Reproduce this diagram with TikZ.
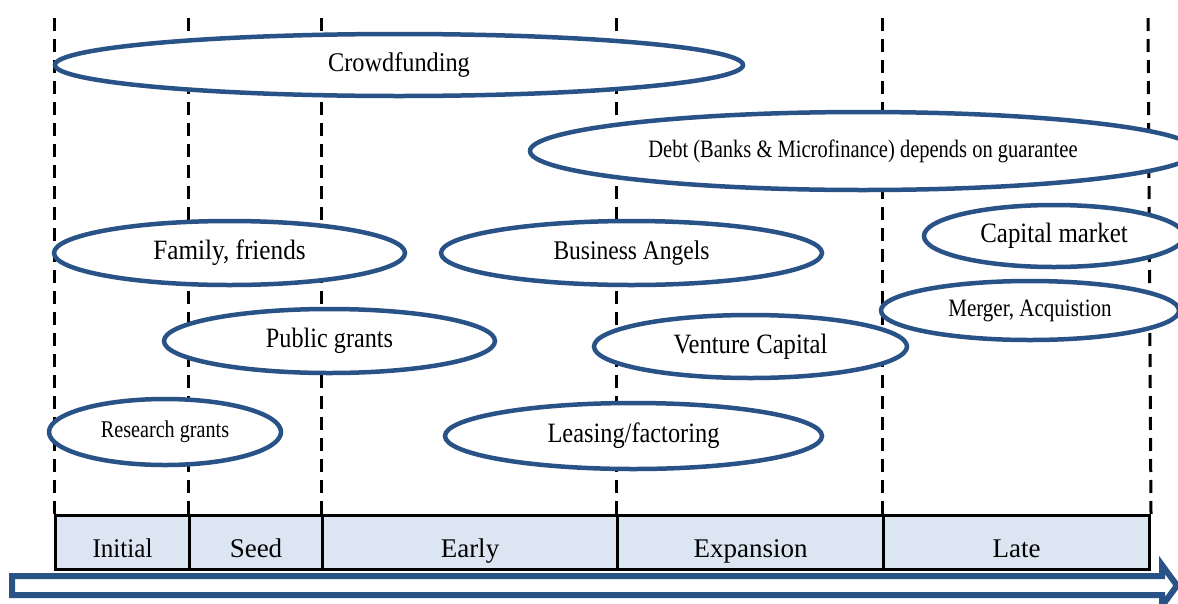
\documentclass[tikz,border=0pt]{standalone}
\usepackage{fontspec}
\setmainfont{Liberation Serif}
\usetikzlibrary{shapes.geometric}
\definecolor{fundblue}{RGB}{41,82,134}
\definecolor{stagefill}{RGB}{220,230,242}
% text at a given size with a horizontal squeeze
\newcommand{\lbl}[3]{\scalebox{#2}[1]{\fontsize{#1}{#1}\selectfont #3}}
\begin{document}
\begin{tikzpicture}[x=1pt,y=-1pt,
  fund/.style={ellipse, draw=fundblue, line width=4.5pt, fill=white, inner sep=0pt},
  divider/.style={draw=black, line width=3pt, dash pattern=on 13pt off 8pt},
  stagecell/.style={rectangle, draw=black, line width=3pt, fill=stagefill,
    minimum height=54pt, inner sep=0pt, anchor=north west},
  stagetext/.style={anchor=base, inner sep=0pt},
  flow/.style={draw=fundblue, line width=6pt, fill=white, line join=miter}]
\useasboundingbox (0,0) rectangle (1178,603);
\clip (0,0) rectangle (1178,603);

% stage cells along the bottom
\node[stagecell, minimum width=134pt] (sI) at (54,514) {};
\node[stagecell, minimum width=133pt] (sS) at (188,514) {};
\node[stagecell, minimum width=295pt] (sE) at (321,514) {};
\node[stagecell, minimum width=266pt] (sX) at (616,514) {};
\node[stagecell, minimum width=266pt] (sL) at (882,514) {};

% dashed dividers between the stages
\coordinate (d0) at (54,18);
\coordinate (d1) at (188,18);
\coordinate (d2) at (321,18);
\coordinate (d3) at (616,18);
\coordinate (d4) at (882,18);
\coordinate (d5) at (1148,18);
\draw[divider] (d0) -- (sI.north west);
\draw[divider] (d1) -- (sS.north west);
\draw[divider] (d2) -- (sE.north west);
\draw[divider] (d3) -- (sX.north west);
\draw[divider] (d4) -- (sL.north west);
\draw[divider] (d5) -- (sL.north east);

% redraw the cells so their borders sit above the dashes
\node[stagecell, minimum width=134pt] at (54,514) {};
\node[stagecell, minimum width=133pt] at (188,514) {};
\node[stagecell, minimum width=295pt] at (321,514) {};
\node[stagecell, minimum width=266pt] at (616,514) {};
\node[stagecell, minimum width=266pt] at (882,514) {};

\node[stagetext] (tI) at ([yshift=-15pt]sI.center) {\lbl{27}{0.93}{Initial}};
\node[stagetext] (tS) at ([yshift=-15pt]sS.center) {\lbl{27}{1.0}{Seed}};
\node[stagetext] (tE) at ([yshift=-15pt]sE.center) {\lbl{27}{1.0}{Early}};
\node[stagetext] (tX) at ([yshift=-15pt]sX.center) {\lbl{27}{1.0}{Expansion}};
\node[stagetext] (tL) at ([yshift=-15pt]sL.center) {\lbl{27}{1.0}{Late}};

% sources of finance
\node[fund, minimum width=688pt, minimum height=62pt] (cf) at (399,65)
  {\lbl{27}{0.9}{Crowdfunding}};
\node[fund, minimum width=666pt, minimum height=78pt] (debt) at (863,151)
  {\lbl{25}{0.82}{Debt (Banks \& Microfinance) depends on guarantee}};
\node[fund, minimum width=351pt, minimum height=64pt] (fam) at (229.5,253)
  {\lbl{28}{0.9}{Family, friends}};
\node[fund, minimum width=381pt, minimum height=64pt] (ba) at (631.5,253)
  {\lbl{27}{0.87}{Business Angels}};
\node[fund, minimum width=260pt, minimum height=62pt] (cm) at (1054,236)
  {\lbl{28}{0.89}{Capital market}};
\node[fund, minimum width=298pt, minimum height=59pt] (ma) at (1030,310.5)
  {\lbl{25}{0.84}{Merger, Acquistion}};
\node[fund, minimum width=331pt, minimum height=64pt] (pg) at (329.5,341)
  {\lbl{28}{0.865}{Public grants}};
\node[fund, minimum width=313pt, minimum height=63pt] (vc) at (750.5,346.5)
  {\lbl{28}{0.88}{Venture Capital}};
\node[fund, minimum width=232pt, minimum height=66pt] (rg) at (165,432)
  {\lbl{24}{0.84}{Research grants}};
\node[fund, minimum width=377pt, minimum height=66pt] (lf) at (633.5,436)
  {\lbl{28}{0.87}{Leasing/factoring}};

% hollow time arrow
\path[flow] (12,576) -- (1162,576) -- (1162,565) -- (1177,585.5)
  -- (1162,606) -- (1162,595) -- (12,595) -- cycle;
\end{tikzpicture}
\end{document}
